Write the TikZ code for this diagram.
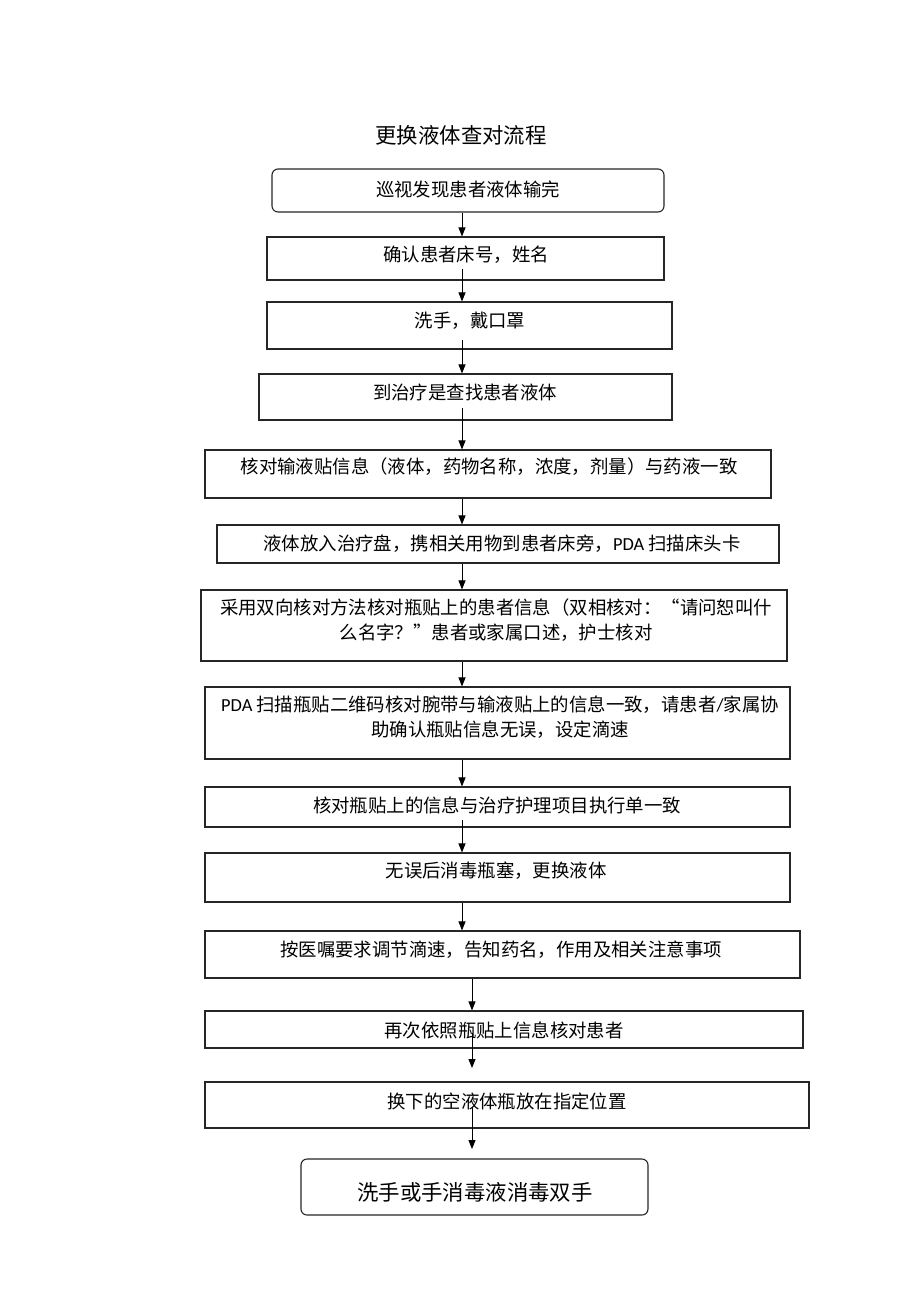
\documentclass[tikz,border=0pt]{standalone}
\usepackage{fontspec}
\setmainfont{Noto Sans CJK SC}
\newfontfamily\latf{Carlito}
\usetikzlibrary{arrows.meta,fit}
\begin{document}
\begin{tikzpicture}[x=1pt,y=-1pt,
  box/.style={draw=black!85,line width=1.1pt,inner sep=0pt},
  rbox/.style={box,rounded corners=6pt},
  txt/.style={inner sep=0pt,align=center,font=\fontsize{18.4}{25}\selectfont},
  bigtxt/.style={inner sep=0pt,font=\fontsize{21.4}{25}\selectfont},
  arr/.style={line width=0.9pt,-{Triangle[length=9pt,width=7pt]}}]
\useasboundingbox (0,0) rectangle (920,1302);
\fill[white] (0,0) rectangle (920,1302);
\node[bigtxt] (title) at (461,135) {更换液体查对流程};
% boxes
\node[rbox,fit={(272,169)(664,212)}] (b1) {};
\node[box,fit={(267,237)(664,280)}] (b2) {};
\node[box,fit={(267,302)(672,349)}] (b3) {};
\node[box,fit={(259,374)(672,420)}] (b4) {};
\node[box,fit={(205,450)(771,498)}] (b5) {};
\node[box,fit={(217,525)(779,563)}] (b6) {};
\node[box,fit={(201,590)(787,661)}] (b7) {};
\node[box,fit={(205,687)(790,759)}] (b8) {};
\node[box,fit={(205,787)(790,827)}] (b9) {};
\node[box,fit={(205,853)(790,902)}] (b10) {};
\node[box,fit={(205,931)(800,978)}] (b11) {};
\node[box,fit={(205,1011)(803,1048)}] (b12) {};
\node[box,fit={(205,1082)(809,1128)}] (b13) {};
\node[rbox,fit={(301,1159)(648,1215)}] (b14) {};
% texts
\node[txt] (t1) at (468,189) {巡视发现患者液体输完};
\node[txt] (t2) at (466,255) {确认患者床号，姓名};
\node[txt] (t3) at (470,321) {洗手，戴口罩};
\node[txt] (t4) at (465,392) {到治疗是查找患者液体};
\node[txt] (t5) at (489,467) {核对输液贴信息（液体，药物名称，浓度，剂量）与药液一致};
\node[txt] (t6) at (502,544) {液体放入治疗盘，携相关用物到患者床旁，{\latf PDA} 扫描床头卡};
\node[txt] (t7) at (496,620) {采用双向核对方法核对瓶贴上的患者信息（双相核对：“请问恕叫什\\么名字？”患者或家属口述，护士核对};
\node[txt] (t8) at (500,717) {{\latf PDA} 扫描瓶贴二维码核对腕带与输液贴上的信息一致，请患者{\latf /}家属协\\助确认瓶贴信息无误，设定滴速};
\node[txt] (t9) at (497,805) {核对瓶贴上的信息与治疗护理项目执行单一致};
\node[txt] (t10) at (496,871) {无误后消毒瓶塞，更换液体};
\node[txt] (t11) at (501,950) {按医嘱要求调节滴速，告知药名，作用及相关注意事项};
\node[txt] (t12) at (504,1030) {再次依照瓶贴上信息核对患者};
\node[txt] (t13) at (507,1101) {换下的空液体瓶放在指定位置};
\node[bigtxt] (t14) at (475,1192) {洗手或手消毒液消毒双手};
% arrow coordinates
\coordinate (xa) at (462,0);
\coordinate (xb) at (472,0);
\coordinate (s2) at (462,269);
\coordinate (s3) at (462,340);
\coordinate (s4) at (462,408);
\coordinate (s9) at (462,820);
\coordinate (s12) at (472,1033);
\coordinate (e12) at (472,1068);
\coordinate (s13) at (472,1107);
\coordinate (e13) at (472,1149);
% arrows
\draw[arr] (b1.south -| xa) -- (b2.north -| xa);
\draw[arr] (s2) -- (b3.north -| xa);
\draw[arr] (s3) -- (b4.north -| xa);
\draw[arr] (s4) -- (b5.north -| xa);
\draw[arr] (b5.south -| xa) -- (b6.north -| xa);
\draw[arr] (b6.south -| xa) -- (b7.north -| xa);
\draw[arr] (b7.south -| xa) -- (b8.north -| xa);
\draw[arr] (b8.south -| xa) -- (b9.north -| xa);
\draw[arr] (s9) -- (b10.north -| xa);
\draw[arr] (b10.south -| xa) -- (b11.north -| xa);
\draw[arr] (b11.south -| xb) -- (b12.north -| xb);
\draw[arr] (s12) -- (e12);
\draw[arr] (s13) -- (e13);
\end{tikzpicture}
\end{document}
